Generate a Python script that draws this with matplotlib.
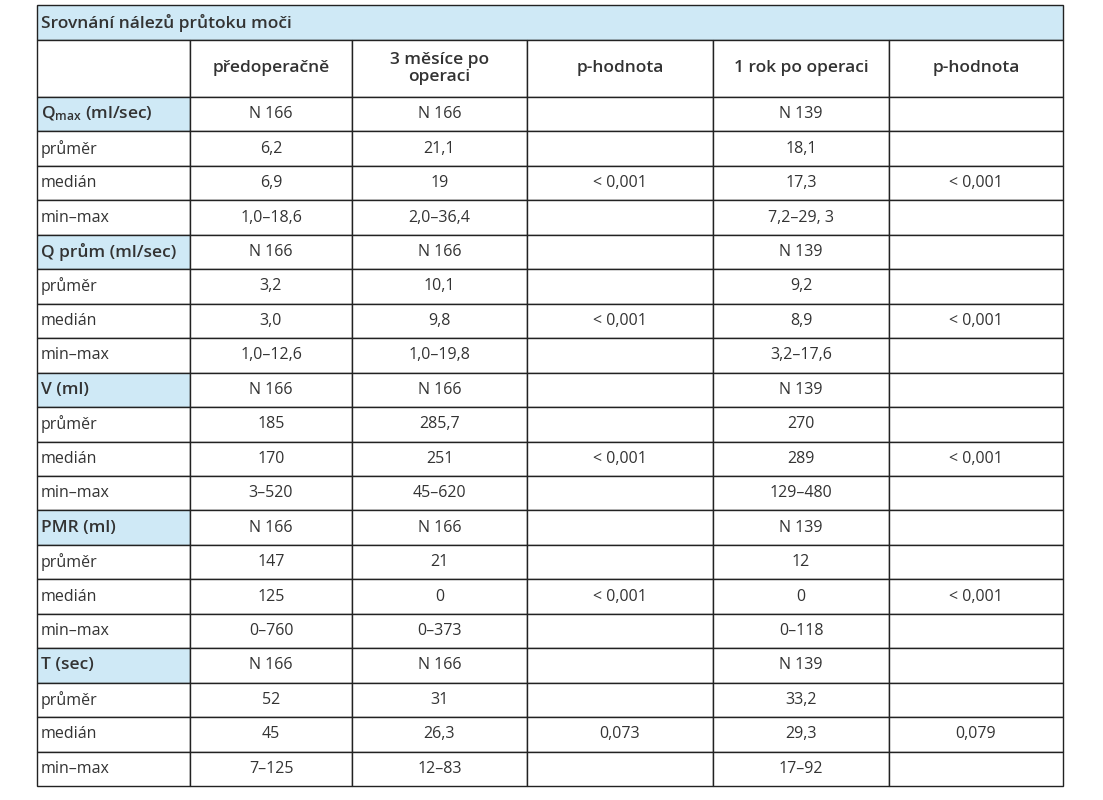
import matplotlib.pyplot as plt
from matplotlib.patches import Rectangle

plt.rcParams['font.family'] = ['Open Sans', 'DejaVu Sans']

title = 'Srovnání nálezů průtoku moči'
headers = ['', 'předoperačně', '3 měsíce po\noperaci', 'p-hodnota', '1 rok po operaci', 'p-hodnota']
sections = ['$\\mathregular{Q_{max}}$ (ml/sec)', 'Q prům (ml/sec)', 'V (ml)', 'PMR (ml)', 'T (sec)']
row_labels = ['průměr', 'medián', 'min–max']
pre = [['N 166', '6,2', '6,9', '1,0–18,6'],
       ['N 166', '3,2', '3,0', '1,0–12,6'],
       ['N 166', '185', '170', '3–520'],
       ['N 166', '147', '125', '0–760'],
       ['N 166', '52', '45', '7–125']]
m3 = [['N 166', '21,1', '19', '2,0–36,4'],
      ['N 166', '10,1', '9,8', '1,0–19,8'],
      ['N 166', '285,7', '251', '45–620'],
      ['N 166', '21', '0', '0–373'],
      ['N 166', '31', '26,3', '12–83']]
p3 = ['< 0,001', '< 0,001', '< 0,001', '< 0,001', '0,073']
y1 = [['N 139', '18,1', '17,3', '7,2–29, 3'],
      ['N 139', '9,2', '8,9', '3,2–17,6'],
      ['N 139', '270', '289', '129–480'],
      ['N 139', '12', '0', '0–118'],
      ['N 139', '33,2', '29,3', '17–92']]
p1 = ['< 0,001', '< 0,001', '< 0,001', '< 0,001', '0,079']

col_x = [37, 190, 352, 527, 713, 889, 1063]
top, title_bot, head_bot, bottom = 5, 40, 97, 786
blue = '#cfe9f6'
txt = '#333333'

fig = plt.figure(figsize=(11.03, 8), dpi=100)
ax = fig.add_axes([0, 0, 1, 1])
ax.set_xlim(0, 1103)
ax.set_ylim(800, 0)
ax.axis('off')

ax.add_patch(Rectangle((col_x[0], top), col_x[-1] - col_x[0], title_bot - top, fc=blue, ec='#222', lw=1))
ax.text(col_x[0] + 4, (top + title_bot) / 2, title, fontsize=12.5, fontweight='semibold', color=txt, va='center')

# hlavička
for i, h in enumerate(headers):
    ax.add_patch(Rectangle((col_x[i], title_bot), col_x[i + 1] - col_x[i], head_bot - title_bot,
                           fc='white', ec='#222', lw=1))
    if h:
        ax.text((col_x[i] + col_x[i + 1]) / 2, (title_bot + head_bot) / 2, h, fontsize=12.5,
                fontweight='semibold', color=txt, ha='center', va='center', linespacing=1.1)

n_rows = len(sections) * 4
rh = (bottom - head_bot) / n_rows
for s in range(len(sections)):
    for k in range(4):
        r = s * 4 + k
        y0 = head_bot + r * rh
        yc = y0 + rh / 2
        label = sections[s] if k == 0 else row_labels[k - 1]
        vals = [pre[s][k], m3[s][k], p3[s] if k == 2 else '', y1[s][k], p1[s] if k == 2 else '']
        for i in range(6):
            fc = blue if (i == 0 and k == 0) else 'white'
            ax.add_patch(Rectangle((col_x[i], y0), col_x[i + 1] - col_x[i], rh, fc=fc, ec='#222', lw=1))
        ax.text(col_x[0] + 4, yc, label, fontsize=12.5 if k == 0 else 11.5,
                fontweight='semibold' if k == 0 else 'normal', color=txt, va='center')
        for i, v in enumerate(vals):
            ax.text((col_x[i + 1] + col_x[i + 2]) / 2, yc, v, fontsize=11.5, color=txt,
                    ha='center', va='center')

fig.savefig('out.png', dpi=100)
